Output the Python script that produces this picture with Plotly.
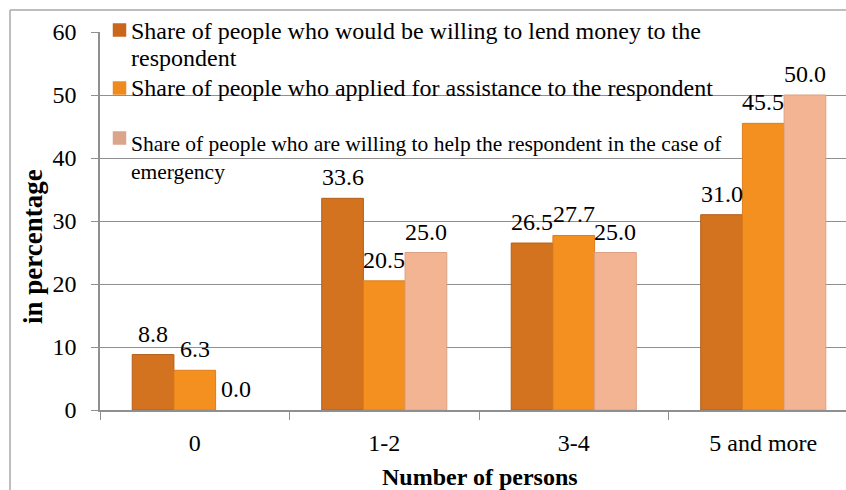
import plotly.graph_objects as go

# Categories and series values (percent)
categories = ["0", "1-2", "3-4", "5 and more"]
lend_money = [8.8, 33.6, 26.5, 31.0]
applied_assist = [6.3, 20.5, 27.7, 45.5]
help_emergency = [0.0, 25.0, 25.0, 50.0]

series_names = [
    "Share of people who would be willing to lend money to the<br>respondent",
    "Share of people who applied for assistance to the respondent",
    "Share of people who are willing to help the respondent in the case of<br>emergency",
]
series_values = [lend_money, applied_assist, help_emergency]
fill_colors = ["#D4731F", "#F4901F", "#F2B493"]
edge_colors = ["#B45E1A", "#DC7E1C", "#DDA083"]
legend_colors = ["#C9661B", "#EE8A1E", "#DBA58C"]

FONT = "Liberation Serif"
GRID = "#8F8F8F"
BARGAP = 0.34

fig = go.Figure()
for name, vals, fc, ec in zip(series_names, series_values, fill_colors, edge_colors):
    fig.add_trace(go.Bar(
        x=categories, y=vals, name=name,
        marker=dict(color=fc, line=dict(color=ec, width=[1 if v > 0 else 0 for v in vals])),
        showlegend=False,
    ))

# value labels above each bar
n = len(series_values)
bar_w = (1 - BARGAP) / n
for i, vals in enumerate(series_values):
    off = (i - (n - 1) / 2) * bar_w
    for j, v in enumerate(vals):
        fig.add_annotation(x=j + off, y=v, xref="x", yref="y",
                           text=f"{v:.1f}", showarrow=False,
                           xanchor="center", yanchor="middle", yshift=21,
                           font=dict(size=24, color="black"))

W, H = 846, 490
L, R, T, B = 100, 0, 32, 80
pw, ph = W - L - R, H - T - B
cat_px = 189.5  # width of one category band


def px_x(x):
    return (x - L) / pw


def px_y(y):
    return (H - B - y) / ph


fig.update_layout(
    width=W, height=H,
    margin=dict(l=L, r=R, t=T, b=B),
    paper_bgcolor="white", plot_bgcolor="white",
    barmode="group", bargap=BARGAP, bargroupgap=0,
    font=dict(family=FONT, color="black"),
    xaxis=dict(
        type="category", range=[-0.5, -0.5 + pw / cat_px],
        showline=True, linecolor=GRID, linewidth=1.5,
        ticks="outside", tickson="boundaries", ticklen=8, tickcolor=GRID,
        tickfont=dict(size=24), ticklabelstandoff=10,
        showgrid=False, zeroline=False,
    ),
    yaxis=dict(
        range=[0, 60], dtick=10,
        showline=True, linecolor=GRID, linewidth=1.5,
        ticks="outside", ticklen=7, tickcolor=GRID,
        tickfont=dict(size=24), ticklabelstandoff=10,
        showgrid=True, gridcolor=GRID, gridwidth=1, zeroline=False,
    ),
)

# chart frame (left and top edges)
fig.add_shape(type="line", xref="paper", yref="paper",
              x0=px_x(10), x1=px_x(W + 5), y0=px_y(10), y1=px_y(10),
              line=dict(color="#A8A8A8", width=1.5), layer="above")
fig.add_shape(type="line", xref="paper", yref="paper",
              x0=px_x(10), x1=px_x(10), y0=px_y(10), y1=px_y(H + 5),
              line=dict(color="#A8A8A8", width=1.5), layer="above")

# legend entries
legend_rows = [
    (30, [31, 58], 24),
    (88, [88], 24),
    (138, [144, 172], 21.5),
]
for (sq_y, line_ys, fs), name, col in zip(legend_rows, series_names, legend_colors):
    fig.add_shape(type="rect", xref="paper", yref="paper",
                  x0=px_x(113), x1=px_x(126), y0=px_y(sq_y - 6.5), y1=px_y(sq_y + 6.5),
                  fillcolor=col, line=dict(color=col, width=0.5), layer="above")
    for txt, ly in zip(name.split("<br>"), line_ys):
        fig.add_annotation(xref="paper", yref="paper", x=px_x(129), y=px_y(ly),
                           xanchor="left", yanchor="middle", showarrow=False,
                           text=txt, font=dict(size=fs, color="black"))

# axis titles
fig.add_annotation(xref="paper", yref="paper", x=px_x(480), y=px_y(477),
                   xanchor="center", yanchor="middle", showarrow=False,
                   text="<b>Number of persons</b>", font=dict(size=24))
fig.add_annotation(xref="paper", yref="paper", x=px_x(33), y=px_y(247),
                   xanchor="center", yanchor="middle", showarrow=False, textangle=-90,
                   text="<b>in percentage</b>", font=dict(size=27))

fig.write_html("out.html")
